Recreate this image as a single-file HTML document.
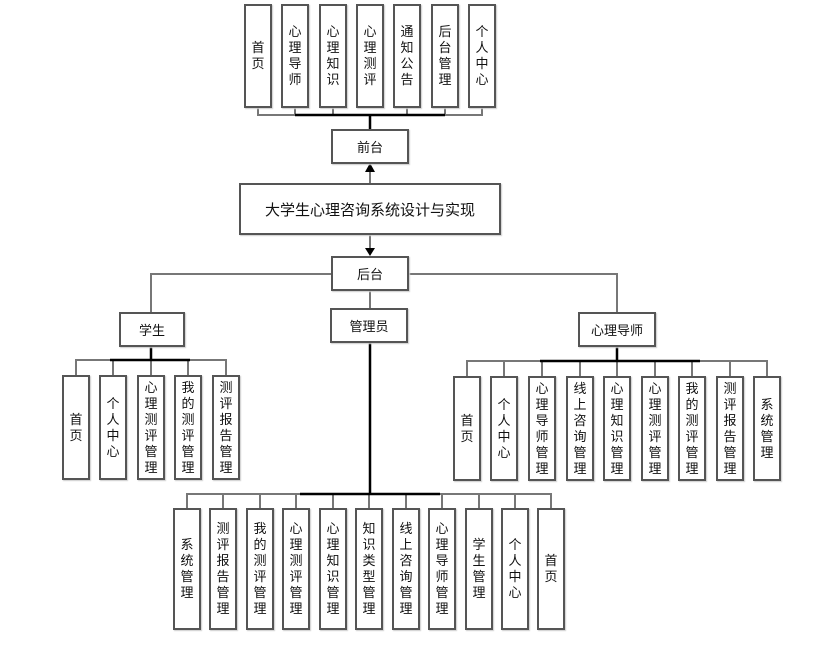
<!DOCTYPE html>
<html><head><meta charset="utf-8"><style>
body{margin:0;width:830px;height:645px;background:#fff;position:relative;overflow:hidden;font-family:"Liberation Sans","Noto Sans CJK SC",sans-serif;color:#111}
.b{position:absolute;box-sizing:border-box;border:2px solid #555;background:#fff;display:flex;align-items:center;justify-content:center;font-size:13px;box-shadow:1px 1px 1px #ccc}
.v span{display:block;width:13px;line-height:16px;word-break:break-all;text-align:center}
svg{position:absolute;left:0;top:0}
</style></head><body>
<svg width="830" height="645">
<g stroke="#777" stroke-width="2" fill="none">
<path d="M258 108V115H482V108M295 108V115M333 108V115M407 108V115M445 108V115"/>
<path d="M370 172V183"/>
<path d="M370 234V250"/>
<path d="M331 274H151V312M409 274H617V312M370 291V308"/>
<path d="M76 375V360H226V375M113 360V375M151 360V375M188 360V375M151 346V360"/>
<path d="M467 376V361H767V376M504 361V376M542 361V376M580 361V376M617 361V376M655 361V376M692 361V376M730 361V376"/>
<path d="M187 508V494H551V508M223 494V508M260 494V508M296 494V508M333 494V508M369 494V508M406 494V508M442 494V508M479 494V508M515 494V508"/>
</g>
<g stroke="#000" stroke-width="2.5" fill="none">
<path d="M370 115V129M295 115H445"/>
<path d="M370 342V494M300 494H440"/>
<path d="M617 347V361M540 361H700"/>
<path d="M151 346V360M110 360H190"/>
</g>
<polygon points="365,172 375,172 370,163" fill="#000"/>
<polygon points="365,248 375,248 370,256" fill="#000"/>
</svg>
<div class="b v" style="left:244px;top:4px;width:28px;height:104px"><span>首页</span></div>
<div class="b v" style="left:281px;top:4px;width:28px;height:104px"><span>心理导师</span></div>
<div class="b v" style="left:319px;top:4px;width:28px;height:104px"><span>心理知识</span></div>
<div class="b v" style="left:356px;top:4px;width:28px;height:104px"><span>心理测评</span></div>
<div class="b v" style="left:393px;top:4px;width:28px;height:104px"><span>通知公告</span></div>
<div class="b v" style="left:431px;top:4px;width:28px;height:104px"><span>后台管理</span></div>
<div class="b v" style="left:468px;top:4px;width:28px;height:104px"><span>个人中心</span></div>
<div class="b" style="left:331px;top:129px;width:78px;height:35px">前台</div>
<div class="b" style="left:239px;top:183px;width:262px;height:52px;font-size:15px">大学生心理咨询系统设计与实现</div>
<div class="b" style="left:331px;top:256px;width:78px;height:35px">后台</div>
<div class="b" style="left:119px;top:312px;width:66px;height:35px">学生</div>
<div class="b" style="left:330px;top:308px;width:78px;height:35px">管理员</div>
<div class="b" style="left:578px;top:312px;width:78px;height:35px">心理导师</div>
<div class="b v" style="left:62px;top:375px;width:28px;height:105px"><span>首页</span></div>
<div class="b v" style="left:99px;top:375px;width:28px;height:105px"><span>个人中心</span></div>
<div class="b v" style="left:137px;top:375px;width:28px;height:105px"><span>心理测评管理</span></div>
<div class="b v" style="left:174px;top:375px;width:28px;height:105px"><span>我的测评管理</span></div>
<div class="b v" style="left:212px;top:375px;width:28px;height:105px"><span>测评报告管理</span></div>
<div class="b v" style="left:453px;top:376px;width:28px;height:105px"><span>首页</span></div>
<div class="b v" style="left:490px;top:376px;width:28px;height:105px"><span>个人中心</span></div>
<div class="b v" style="left:528px;top:376px;width:28px;height:105px"><span>心理导师管理</span></div>
<div class="b v" style="left:566px;top:376px;width:28px;height:105px"><span>线上咨询管理</span></div>
<div class="b v" style="left:603px;top:376px;width:28px;height:105px"><span>心理知识管理</span></div>
<div class="b v" style="left:641px;top:376px;width:28px;height:105px"><span>心理测评管理</span></div>
<div class="b v" style="left:678px;top:376px;width:28px;height:105px"><span>我的测评管理</span></div>
<div class="b v" style="left:716px;top:376px;width:28px;height:105px"><span>测评报告管理</span></div>
<div class="b v" style="left:753px;top:376px;width:28px;height:105px"><span>系统管理</span></div>
<div class="b v" style="left:173px;top:508px;width:28px;height:122px"><span>系统管理</span></div>
<div class="b v" style="left:209px;top:508px;width:28px;height:122px"><span>测评报告管理</span></div>
<div class="b v" style="left:246px;top:508px;width:28px;height:122px"><span>我的测评管理</span></div>
<div class="b v" style="left:282px;top:508px;width:28px;height:122px"><span>心理测评管理</span></div>
<div class="b v" style="left:319px;top:508px;width:28px;height:122px"><span>心理知识管理</span></div>
<div class="b v" style="left:355px;top:508px;width:28px;height:122px"><span>知识类型管理</span></div>
<div class="b v" style="left:392px;top:508px;width:28px;height:122px"><span>线上咨询管理</span></div>
<div class="b v" style="left:428px;top:508px;width:28px;height:122px"><span>心理导师管理</span></div>
<div class="b v" style="left:465px;top:508px;width:28px;height:122px"><span>学生管理</span></div>
<div class="b v" style="left:501px;top:508px;width:28px;height:122px"><span>个人中心</span></div>
<div class="b v" style="left:537px;top:508px;width:28px;height:122px"><span>首页</span></div>
</body></html>
